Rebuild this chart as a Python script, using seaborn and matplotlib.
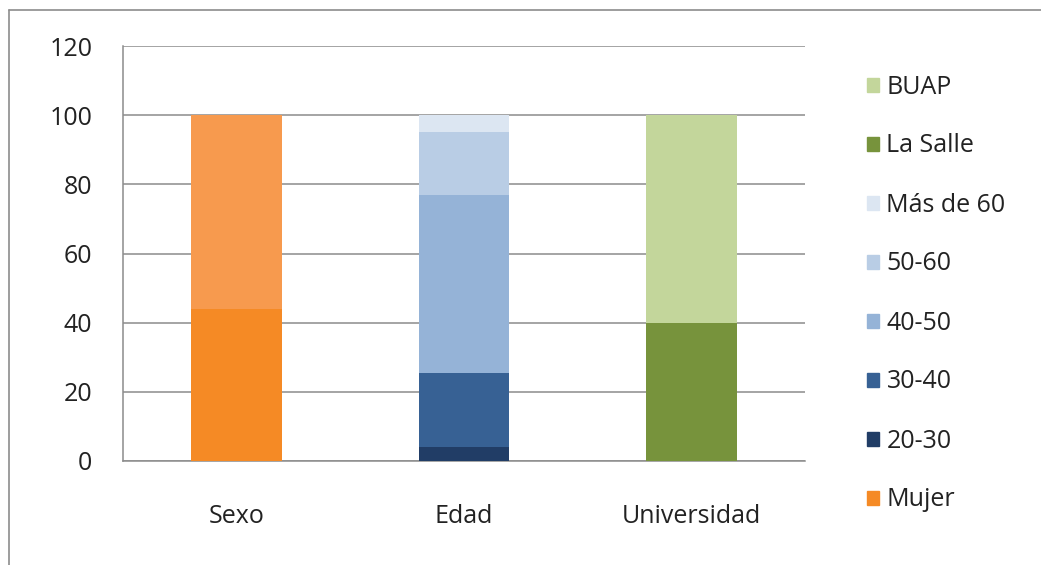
import matplotlib.pyplot as plt
import matplotlib.patches as mpatches
import pandas as pd
import seaborn as sns

categories = ["Sexo", "Edad", "Universidad"]

# segments per category, bottom to top
sexo_labels = ["Mujer", "Hombre"]
sexo_values = [44, 56]
edad_labels = ["20-30", "30-40", "40-50", "50-60", "Más de 60"]
edad_values = [4, 21.5, 51.5, 18, 5]
univ_labels = ["La Salle", "BUAP"]
univ_values = [40, 60]

colors = {
    "Mujer": "#F58A25",
    "Hombre": "#F79A4E",
    "20-30": "#213D66",
    "30-40": "#376194",
    "40-50": "#95B3D7",
    "50-60": "#B9CDE5",
    "Más de 60": "#DCE6F2",
    "La Salle": "#77933C",
    "BUAP": "#C3D69B",
}
legend_order = ["BUAP", "La Salle", "Más de 60", "50-60", "40-50", "30-40", "20-30", "Mujer"]

rows = []
for cat, labs, vals in [("Sexo", sexo_labels, sexo_values),
                        ("Edad", edad_labels, edad_values),
                        ("Universidad", univ_labels, univ_values)]:
    top = 0
    for lab, v in zip(labs, vals):
        top += v
        rows.append({"cat": cat, "seg": lab, "top": top})
df = pd.DataFrame(rows)

sns.set_style("white")
plt.rcParams["font.family"] = ["Open Sans", "DejaVu Sans"]

fig = plt.figure(figsize=(10.41, 5.65), dpi=100)
ax = fig.add_axes([123 / 1041, 104 / 565, 682 / 1041, 415 / 565])

# draw tallest stacks first so lower segments sit on top
for _, r in df.sort_values("top", ascending=False).iterrows():
    sns.barplot(x=[r["cat"]], y=[r["top"]], order=categories, color=colors[r["seg"]],
                width=0.4, saturation=1, linewidth=0, ax=ax, zorder=3)

ax.set_ylim(0, 120)
ax.set_xlim(-0.5, 2.5)
ax.set_yticks(range(0, 121, 20))
ax.yaxis.grid(True, color="#8c8c8c", linewidth=1.1, zorder=0)
ax.set_axisbelow(True)
for s in ["top", "right"]:
    ax.spines[s].set_visible(False)
for s in ["left", "bottom"]:
    ax.spines[s].set_color("#8c8c8c")
    ax.spines[s].set_linewidth(1.1)
ax.set_xticks([-0.5, 0.5, 1.5, 2.5], minor=True)
ax.tick_params(axis="x", which="major", length=0, pad=31, labelsize=18, colors="#222222")
ax.tick_params(axis="x", which="minor", length=8, width=1.1, color="#8c8c8c", direction="out")
ax.tick_params(axis="y", length=8, width=1.1, color="#8c8c8c", direction="out",
               labelsize=18, labelcolor="#222222", pad=14)
ax.set_xlabel("")
ax.set_ylabel("")

handles = [mpatches.Patch(color=colors[l], label=l) for l in legend_order]
fig.legend(handles=handles, loc="upper left", bbox_to_anchor=(844 / 1041, 1 - 52 / 565),
           frameon=False, fontsize=18, handlelength=0.5, handleheight=0.5,
           handletextpad=0.3, labelspacing=1.36, labelcolor="#222222")

# outer chart frame (cropped on right/bottom)
fig.add_artist(plt.Line2D([9 / 1041, 9 / 1041], [0, 1 - 10 / 565], color="#8c8c8c", lw=1.2))
fig.add_artist(plt.Line2D([9 / 1041, 1], [1 - 10 / 565, 1 - 10 / 565], color="#8c8c8c", lw=1.2))

fig.savefig("out.png", dpi=100)
